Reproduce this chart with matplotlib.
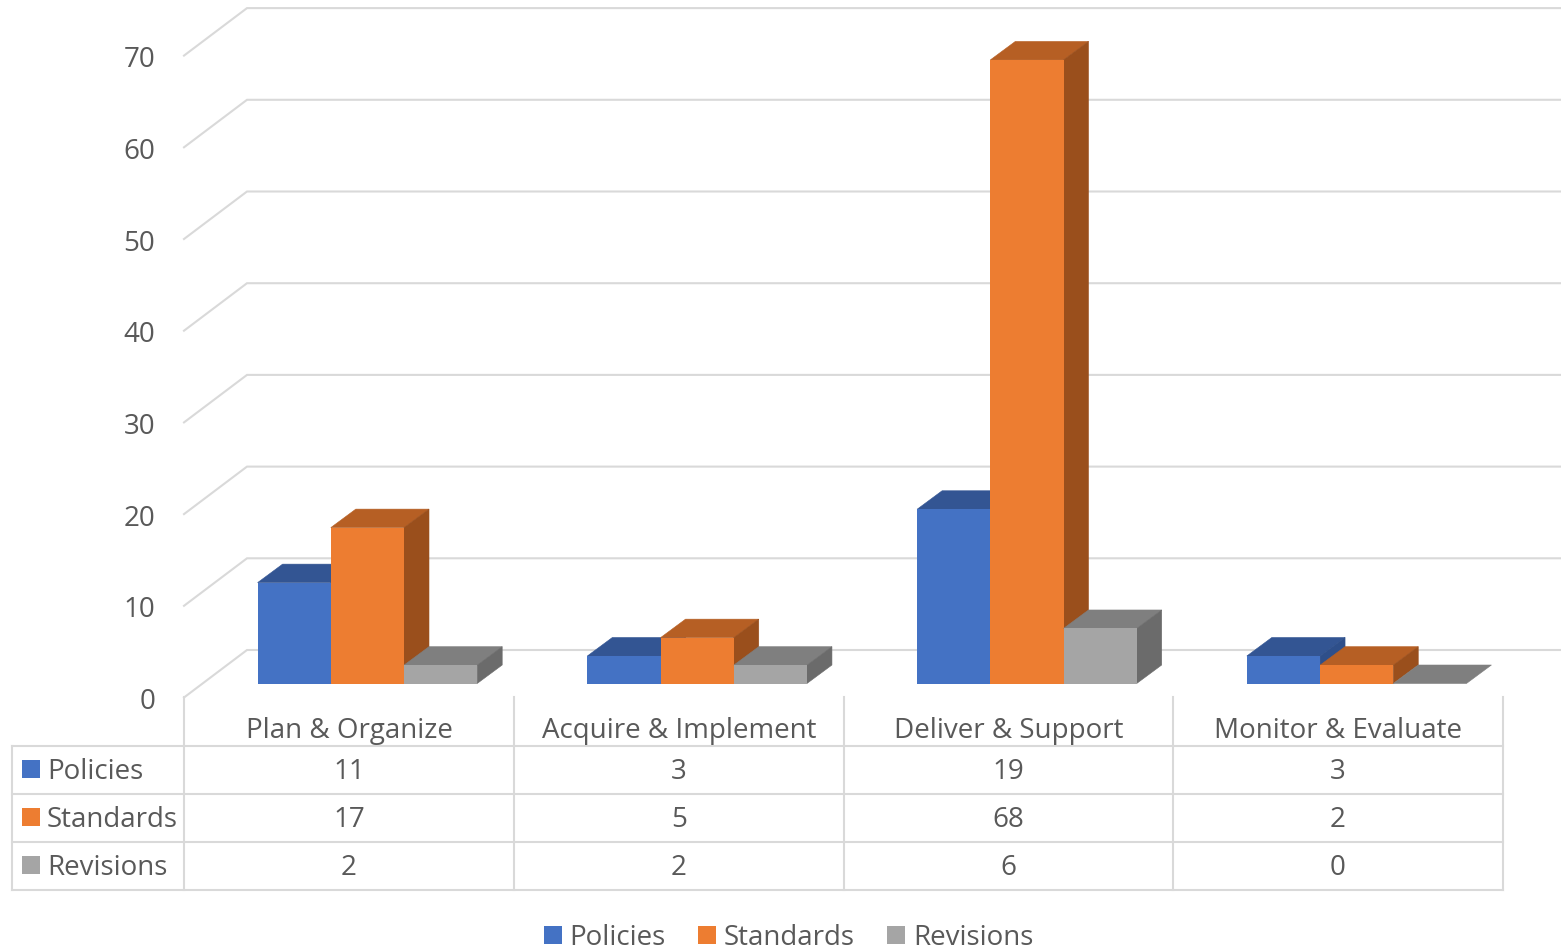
import matplotlib
matplotlib.use('Agg')
import matplotlib.pyplot as plt
from matplotlib.patches import Polygon, Patch

plt.rcParams['font.family'] = ['Open Sans', 'DejaVu Sans']

categories = ['Plan & Organize', 'Acquire & Implement', 'Deliver & Support', 'Monitor & Evaluate']
series_names = ['Policies', 'Standards', 'Revisions']
policies = [11, 3, 19, 3]
standards = [17, 5, 68, 2]
revisions = [2, 2, 6, 0]
y_ticks = [0, 10, 20, 30, 40, 50, 60, 70]

W, H = 1561, 948
TEXT = '#595959'
GRID = '#D9D9D9'
FONT = 20

# front, top, side colours of each series
front_cols = ['#4472C4', '#ED7D31', '#A5A5A5']
top_cols = ['#335593', '#B65F24', '#7F7F7F']
side_cols = ['#2E4F8A', '#9A4F1C', '#6B6B6B']

fig = plt.figure(figsize=(W / 100, H / 100), dpi=100)

# pixel axes for the table frame and its labels
tab = fig.add_axes([0, 0, 1, 1])
tab.set_xlim(0, W)
tab.set_ylim(H, 0)
tab.axis('off')

# data axes: x in categories, y in values
X0, CAT_W = 184, 329.75
Y0, UNIT = 697.5, 9.17
ax = fig.add_axes([0, 0, 1, 1])
ax.set_xlim(-X0 / CAT_W, (W - X0) / CAT_W)
ax.set_ylim((Y0 - H) / UNIT, Y0 / UNIT)
ax.axis('off')

def dx(px):
    return px / CAT_W

def dy(px):
    return px / UNIT

# walls
wall_x, wall_y = dx(63), dy(47.5)
for v in y_ticks:
    ax.plot([0, wall_x, ax.get_xlim()[1]], [v, v + wall_y, v + wall_y],
            color=GRID, lw=1.5, solid_joinstyle='miter', zorder=1)
    ax.text(-dx(29), v - dy(4.5), str(v), ha='right', va='center', color=TEXT, fontsize=FONT)

# bars
bar_w = dx(73.2)
start = dx(73.6)
lift = dy(14)
depth_x, depth_y = dx(25), dy(18.5)
z = 2
for c in range(len(categories)):
    for s, vals in enumerate([policies, standards, revisions]):
        v = vals[c]
        x1 = c + start + s * bar_w
        x2 = x1 + bar_w
        y1 = lift
        y2 = lift + v
        ax.add_patch(Polygon([(x1, y2), (x2, y2), (x2 + depth_x, y2 + depth_y), (x1 + depth_x, y2 + depth_y)],
                             fc=top_cols[s], ec=top_cols[s], lw=0.4, zorder=z))
        if v > 0:
            ax.add_patch(Polygon([(x2, y1), (x2 + depth_x, y1 + depth_y), (x2 + depth_x, y2 + depth_y), (x2, y2)],
                                 fc=side_cols[s], ec=side_cols[s], lw=0.4, zorder=z))
            ax.add_patch(Polygon([(x1, y1), (x2, y1), (x2, y2), (x1, y2)],
                                 fc=front_cols[s], ec='none', zorder=z + 0.5))
        z += 1

# data table
col_x = [184, 514, 844, 1173, 1503]
row_y = [746, 794, 842, 890]
for x in col_x:
    tab.plot([x, x], [697, 890], color=GRID, lw=1.5)
tab.plot([12, 12], [746, 890], color=GRID, lw=1.5)
for y in row_y:
    tab.plot([12, 1503], [y, y], color=GRID, lw=1.5)

for c, name in enumerate(categories):
    cx = (col_x[c] + col_x[c + 1]) / 2
    tab.text(cx, 731, name, ha='center', va='center', color=TEXT, fontsize=FONT)
    for r, vals in enumerate([policies, standards, revisions]):
        tab.text(cx, 772 + 48 * r, str(vals[c]), ha='center', va='center', color=TEXT, fontsize=FONT)

for r, name in enumerate(series_names):
    yc = 769 + 48 * r
    tab.add_patch(plt.Rectangle((22, yc - 9), 18, 18, fc=front_cols[r], ec='none'))
    tab.text(47, yc + 3, name, ha='left', va='center', color=TEXT, fontsize=FONT)

# legend
px_pt = FONT * 100 / 72
handles = [Patch(fc=col, ec='none', label=n) for col, n in zip(front_cols, series_names)]
tab.legend(handles=handles, ncol=3, loc='center', bbox_to_anchor=(788.5, 938),
           bbox_transform=tab.transData, frameon=False, fontsize=FONT, labelcolor=TEXT,
           handlelength=18 / px_pt, handleheight=18 / px_pt, handletextpad=8 / px_pt,
           columnspacing=32 / px_pt, borderpad=0, borderaxespad=0)

fig.savefig('out.png', dpi=100)
